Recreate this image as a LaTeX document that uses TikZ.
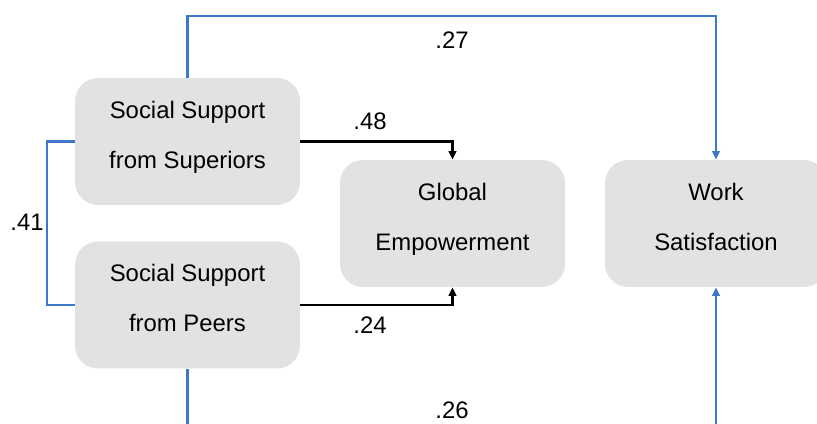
\documentclass[tikz,border=0pt]{standalone}
\usepackage{fontspec}
\setmainfont{Liberation Sans}
\usetikzlibrary{arrows.meta}

\definecolor{boxgray}{HTML}{E1E2E4}
\definecolor{pathblue}{HTML}{3D78C9}

\tikzset{
  factor/.style={shape=rectangle, rounded corners=0.46cm, fill=boxgray,
    minimum width=4.5cm, minimum height=2.54cm, align=center,
    text depth=0.27cm, font=\fontsize{13.6}{28.4}\selectfont},
  blueline/.style={draw=pathblue, line width=1.6pt},
  blackline/.style={draw=black, line width=1.4pt},
  coef/.style={font=\fontsize{13.6}{15}\selectfont},
  >={Triangle[length=0.17cm, width=0.15cm]}
}

\def\dW{817}
\def\dH{423}

\begin{document}
\begin{tikzpicture}[x=0.02cm, y=-0.02cm]
    \useasboundingbox (0,0) rectangle (\dW,\dH);
    \clip (0,0) rectangle (\dW,\dH);

    %%   the four boxes
    \node[factor] (SUP) at (187.5, 141.5) {Social Support\\from Superiors};
    \node[factor] (PEER) at (187.5, 305) {Social Support\\from Peers};
    \node[factor] (GE)  at (452.5, 223.5) {Global\\Empowerment};
    \node[factor, minimum width=4.44cm] (WS) at (716, 223.5) {Work\\Satisfaction};

    %%   bend points
    \coordinate (CTOP) at (716, 16);
    \coordinate (CLFT) at (47, 223);
    \coordinate (CBOT) at (450, 445);

    %%   paths
    \draw[blueline, ->] (SUP.north) |- (CTOP) -- (WS.north);
    \draw[blueline] (SUP.west) -| (CLFT) |- (PEER.west);
    \draw[blueline, ->] (PEER.south) |- (CBOT) -| (WS.south);
    \draw[blackline, ->] (SUP.east) -| (GE.north);
    \draw[blackline, ->] (PEER.east) -| (GE.south);

    %%   coefficients
    \node[coef] (L27) at (452, 40)  {.27};
    \node[coef] (L48) at (370, 121) {.48};
    \node[coef] (L41) at (27, 222)  {.41};
    \node[coef] (L24) at (370, 325) {.24};
    \node[coef] (L26) at (452, 410) {.26};
\end{tikzpicture}
\end{document}
